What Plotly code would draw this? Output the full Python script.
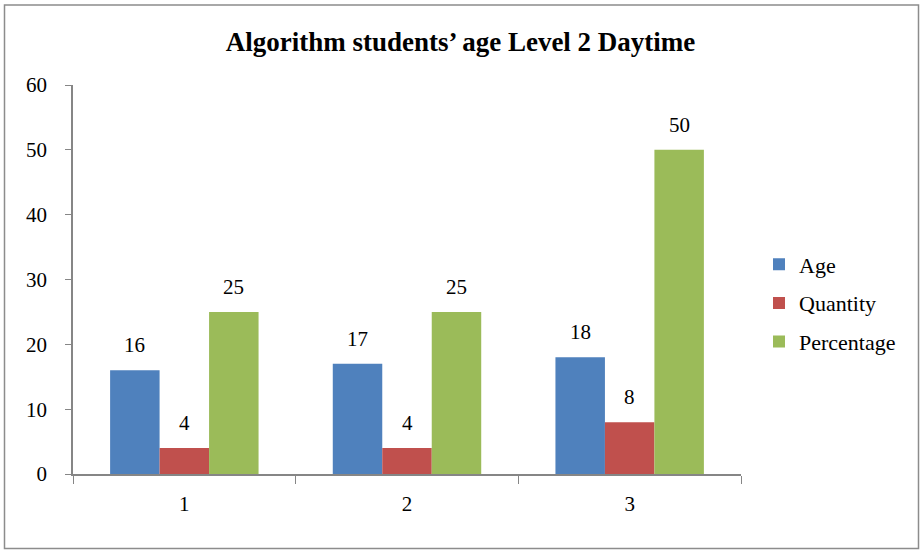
import plotly.graph_objects as go

categories = ["1", "2", "3"]
series_names = ["Age", "Quantity", "Percentage"]
age = [16, 17, 18]
quantity = [4, 4, 8]
percentage = [25, 25, 50]
colors = ["#4F81BD", "#C0504D", "#9BBB59"]
y_ticks = [0, 10, 20, 30, 40, 50, 60]

series = [age, quantity, percentage]
FONT = "Liberation Serif, Times New Roman, serif"

fig = go.Figure()
for i, (name, vals, col) in enumerate(zip(series_names, series, colors)):
    fig.add_trace(go.Bar(x=categories, y=vals, name=name, marker_color=col,
                         marker_line_width=0, legendgroup=name))

# data labels
bargap = 1 / 3
bw = (1 - bargap) / 3
annotations = []
for i, vals in enumerate(series):
    off = (i - 1) * bw
    for j, v in enumerate(vals):
        annotations.append(dict(x=j + off, y=v, xref="x", yref="y", text=str(v),
                                showarrow=False, yanchor="bottom", yshift=11,
                                font=dict(family=FONT, size=21, color="#000")))

L, R, T, B = 73, 180, 85, 77
W, H = 921, 551
pw, ph = W - L - R, H - T - B

fig.update_layout(
    width=W, height=H,
    margin=dict(l=L, r=R, t=T, b=B),
    paper_bgcolor="white", plot_bgcolor="white",
    barmode="group", bargap=bargap, bargroupgap=0,
    title=dict(text="<b>Algorithm students’ age Level 2 Daytime</b>", x=0.5, xanchor="center",
               y=1 - 42 / H, yanchor="middle",
               font=dict(family=FONT, size=27, color="#000")),
    font=dict(family=FONT, size=21, color="#000"),
    legend=dict(x=(759 - L) / pw, xanchor="left", y=(T + ph - 303) / ph, yanchor="middle",
                font=dict(family=FONT, size=22, color="#000"), tracegroupgap=7,
                traceorder="grouped", itemwidth=30, bgcolor="rgba(0,0,0,0)"),
    annotations=annotations,
    shapes=[dict(type="rect", xref="paper", yref="paper",
                 x0=(4.5 - L) / pw, x1=(918.5 - L) / pw,
                 y0=(T + ph - 548.5) / ph, y1=(T + ph - 5) / ph,
                 line=dict(color="#8C8C8C", width=1.5), fillcolor="rgba(0,0,0,0)", layer="below")],
)
fig.update_xaxes(type="category", showline=True, linecolor="#868686", linewidth=1.5,
                 ticks="outside", tickson="boundaries", ticklen=8, tickcolor="#868686",
                 showgrid=False, zeroline=False, ticklabelstandoff=10,
                 tickfont=dict(family=FONT, size=21, color="#000"))
fig.update_yaxes(range=[0, 60], tickvals=y_ticks, showline=True, linecolor="#868686",
                 linewidth=1.5, ticks="outside", ticklen=6, tickcolor="#868686",
                 showgrid=False, zeroline=False, ticklabelstandoff=14,
                 tickfont=dict(family=FONT, size=21, color="#000"))

fig.write_html("out.html", config={"displayModeBar": False},
               post_script="document.body.style.margin='0';document.body.style.overflow='hidden';")
